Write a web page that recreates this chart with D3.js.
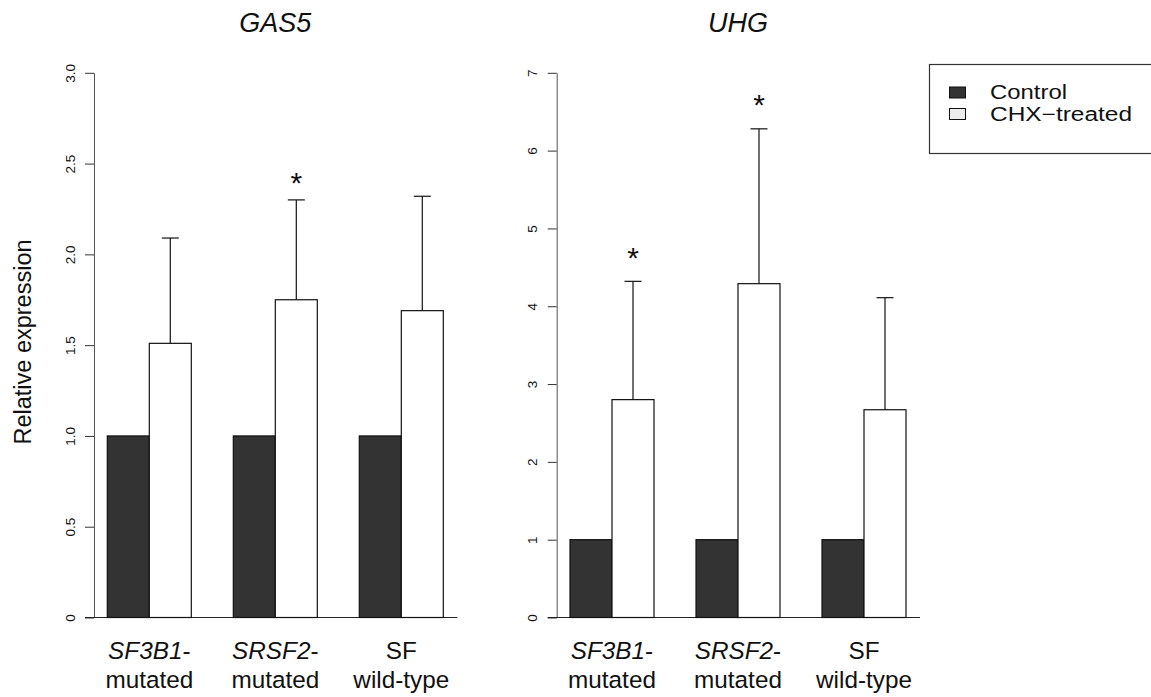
<!DOCTYPE html>
<html>
<head>
<meta charset="utf-8">
<script src="https://cdn.jsdelivr.net/npm/d3@7"></script>
<style>
  body { margin: 0; background: #fff; }
  svg { font-family: "Liberation Sans", Arial, Helvetica, sans-serif; }
</style>
</head>
<body>
<svg id="chart" width="1151" height="697"></svg>
<script>
// groups and series
const groups = ["SF3B1", "SRSF2", "SF"];
const groupLine1 = [
  { it: "SF3B1", rest: "-" },
  { it: "SRSF2", rest: "-" },
  { it: "", rest: "SF" }
];
const groupLine2 = ["mutated", "mutated", "wild-type"];
const series = ["Control", "CHX-treated"];
const legendLabels = ["Control", "CHX\u2212treated"];

// GAS5 panel
const gas5Control = [1, 1, 1];
const gas5Chx = [1.51, 1.75, 1.69];
const gas5ChxErr = [2.09, 2.30, 2.32];     // top of error bar
const gas5Stars = [null, 2.43, null];      // where the * sits
const gas5Ticks = [0, 0.5, 1, 1.5, 2, 2.5, 3];
const gas5TickLabels = ["0", "0.5", "1.0", "1.5", "2.0", "2.5", "3.0"];

// UHG panel
const uhgControl = [1, 1, 1];
const uhgChx = [2.80, 4.29, 2.67];
const uhgChxErr = [4.32, 6.28, 4.11];
const uhgStars = [4.71, 6.68, null];
const uhgTicks = [0, 1, 2, 3, 4, 5, 6, 7];
const uhgTickLabels = ["0", "1", "2", "3", "4", "5", "6", "7"];

const DARK = "#333333";
const svg = d3.select("#chart");

function panel(opts) {
  const y = d3.scaleLinear().domain(opts.domain).range([617.5, 72.8]);
  const x = d3.scaleBand().domain(groups).range(opts.xRange)
    .paddingInner(1 / 3).paddingOuter(0);
  const sub = d3.scaleBand().domain(series).range([0, x.bandwidth()]);
  const g = svg.append("g");

  // y axis
  const axis = d3.axisLeft(y)
    .tickValues(opts.ticks)
    .tickFormat((d, i) => opts.tickLabels[i])
    .tickSize(9)
    .tickSizeOuter(0);
  const ag = g.append("g")
    .attr("transform", `translate(${opts.axisX},0)`)
    .call(axis);
  ag.select(".domain").attr("stroke", "#555");
  ag.selectAll(".tick line").attr("stroke", "#333");
  ag.selectAll(".tick text")
    .attr("x", 0)
    .attr("y", -19.5)
    .attr("dy", null)
    .attr("transform", "rotate(-90)")
    .attr("text-anchor", "middle")
    .attr("font-size", 13.5)
    .attr("fill", "#111");

  // baseline
  g.append("line")
    .attr("x1", opts.axisX - 9)
    .attr("x2", opts.xRange[1] + 14)
    .attr("y1", y(0)).attr("y2", y(0))
    .attr("stroke", "#222").attr("stroke-width", 1.2);

  const rows = groups.map((k, i) => ({
    k, vals: [opts.control[i], opts.chx[i]], err: opts.err[i], star: opts.stars[i]
  }));

  const grp = g.selectAll(".grp").data(rows).enter().append("g")
    .attr("transform", d => `translate(${x(d.k)},0)`);

  grp.selectAll("rect")
    .data(d => d.vals.map((v, j) => ({ s: series[j], v })))
    .enter().append("rect")
    .attr("x", d => sub(d.s))
    .attr("width", sub.bandwidth())
    .attr("y", d => y(d.v))
    .attr("height", d => y(0) - y(d.v))
    .attr("fill", d => d.s === "Control" ? DARK : "#fff")
    .attr("stroke", "#111")
    .attr("stroke-width", 1.2);

  // upper error bars on the CHX bars
  const cx = sub("CHX-treated") + sub.bandwidth() / 2;
  grp.append("line")
    .attr("x1", cx).attr("x2", cx)
    .attr("y1", d => y(d.vals[1])).attr("y2", d => y(d.err))
    .attr("stroke", "#111").attr("stroke-width", 1.2);
  grp.append("line")
    .attr("x1", cx - 8.5).attr("x2", cx + 8.5)
    .attr("y1", d => y(d.err)).attr("y2", d => y(d.err))
    .attr("stroke", "#111").attr("stroke-width", 1.2);

  grp.filter(d => d.star != null).append("text")
    .attr("x", cx)
    .attr("y", d => y(d.star) + 17)
    .attr("text-anchor", "middle")
    .attr("font-size", 30)
    .attr("fill", "#111")
    .text("*");

  // group labels
  const lab = grp.append("text")
    .attr("x", x.bandwidth() / 2)
    .attr("y", 659)
    .attr("text-anchor", "middle")
    .attr("font-size", 24.3)
    .attr("fill", "#111");
  lab.append("tspan").attr("font-style", "italic").text((d, i) => groupLine1[i].it);
  lab.append("tspan").text((d, i) => groupLine1[i].rest);
  grp.append("text")
    .attr("x", x.bandwidth() / 2)
    .attr("y", 688)
    .attr("text-anchor", "middle")
    .attr("font-size", 24.3)
    .attr("fill", "#111")
    .text((d, i) => groupLine2[i]);

  // title
  g.append("text")
    .attr("x", (opts.xRange[0] + opts.xRange[1]) / 2)
    .attr("y", 32)
    .attr("text-anchor", "middle")
    .attr("font-size", 27)
    .attr("font-style", "italic")
    .attr("fill", "#111")
    .text(opts.title);
}

panel({
  title: "GAS5", domain: [0, 3], axisX: 94, xRange: [107.3, 443.3],
  ticks: gas5Ticks, tickLabels: gas5TickLabels,
  control: gas5Control, chx: gas5Chx, err: gas5ChxErr, stars: gas5Stars
});
panel({
  title: "UHG", domain: [0, 7], axisX: 556.7, xRange: [570, 906],
  ticks: uhgTicks, tickLabels: uhgTickLabels,
  control: uhgControl, chx: uhgChx, err: uhgChxErr, stars: uhgStars
});

// y label
svg.append("text")
  .attr("transform", "translate(31,342) rotate(-90)")
  .attr("text-anchor", "middle")
  .attr("font-size", 23.5)
  .attr("fill", "#111")
  .text("Relative expression");

// legend
const lg = svg.append("g");
lg.append("rect")
  .attr("x", 929.5).attr("y", 64.5)
  .attr("width", 240).attr("height", 89)
  .attr("fill", "#fff").attr("stroke", "#333").attr("stroke-width", 1.2);
const legendFill = [DARK, "#ececec"];
const legendLen = [77, 142];
const li = lg.selectAll(".li").data(legendLabels).enter().append("g")
  .attr("transform", (d, i) => `translate(0,${i * 21.5})`);
li.append("rect")
  .attr("x", 949.5).attr("y", 87)
  .attr("width", 16).attr("height", 11)
  .attr("fill", (d, i) => legendFill[i])
  .attr("stroke", "#111").attr("stroke-width", 1);
li.append("text")
  .attr("x", 990).attr("y", 99)
  .attr("font-size", 20)
  .attr("textLength", (d, i) => legendLen[i])
  .attr("lengthAdjust", "spacingAndGlyphs")
  .attr("fill", "#111")
  .text(d => d);
</script>
</body>
</html>
